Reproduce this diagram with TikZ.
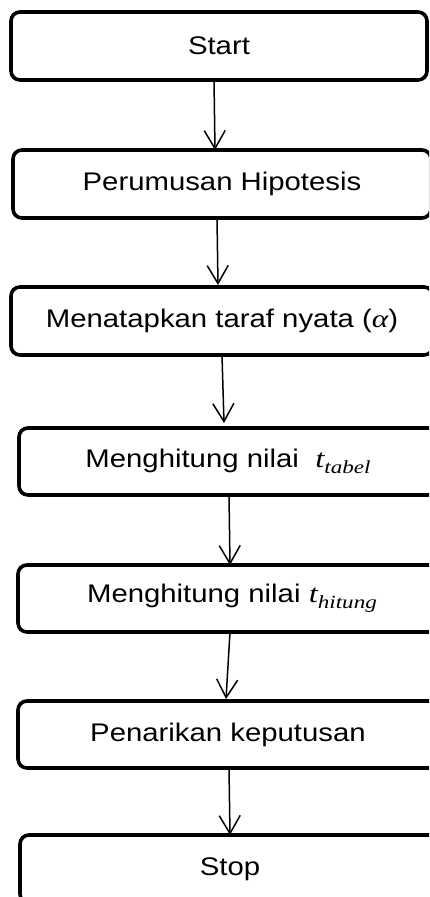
\RequirePackage{fix-cm}
\documentclass[tikz,border=0pt]{standalone}
\usepackage{fontspec}
\setmainfont{Liberation Sans}[FakeStretch=1.15]
\newfontfamily\mathserif{Liberation Serif}[FakeStretch=1.25]
\newcommand{\mvar}[2]{{\mathserif\itshape\fontsize{26}{30}\selectfont #1\raisebox{-6pt}{\fontsize{18.5}{20}\selectfont #2}}}
\usetikzlibrary{arrows.meta}
\tikzset{
  box/.style={draw=black, line width=3.6pt, rounded corners=9pt, fill=white,
    outer sep=0pt, inner sep=0pt, minimum height=68pt,
    font=\fontsize{25.5}{30}\selectfont},
  arr/.style={line width=1.5pt, -{Straight Barb[length=18pt,width=21pt,line width=1.5pt]}}
}
\begin{document}
\begin{tikzpicture}[x=1pt,y=-1pt]
\useasboundingbox (0,0) rectangle (429,897);
\clip (0,0) rectangle (429,897);
\node[box, minimum width=416pt] (b1) at (219,46) {Start};
\node[box, minimum width=418pt] (b2) at (222,184) {Perumusan Hipotesis};
\node[box, minimum width=422pt] (b3) at (222,321) {Menatapkan taraf nyata ({\mathserif\itshape\fontsize{25}{30}\selectfont α})};
\node[box, minimum width=418pt, minimum height=67pt] (b4) at (228,461.5) {Menghitung nilai\ \ \mvar{t}{tabel}};
\node[box, minimum width=428pt, minimum height=67pt] (b5) at (232,598.5) {Menghitung nilai \mvar{t}{hitung}};
\node[box, minimum width=420pt, minimum height=67pt] (b6) at (228,734.5) {Penarikan keputusan};
\node[box, minimum width=420pt] (b7) at (230,869) {Stop};
\draw[arr] ([xshift=-5pt]b1.south) -- ([xshift=-7pt]b2.north);
\draw[arr] ([xshift=-5pt]b2.south) -- ([xshift=-4pt,yshift=2pt]b3.north);
\draw[arr] ([xshift=0pt]b3.south) -- ([xshift=-4pt,yshift=5pt]b4.north);
\draw[arr] ([xshift=1pt]b4.south) -- ([xshift=-2pt]b5.north);
\draw[arr] ([xshift=-2pt]b5.south) -- ([xshift=-2pt,yshift=2pt]b6.north);
\draw[arr] ([xshift=1pt]b6.south) -- ([xshift=0pt]b7.north);
\end{tikzpicture}
\end{document}
